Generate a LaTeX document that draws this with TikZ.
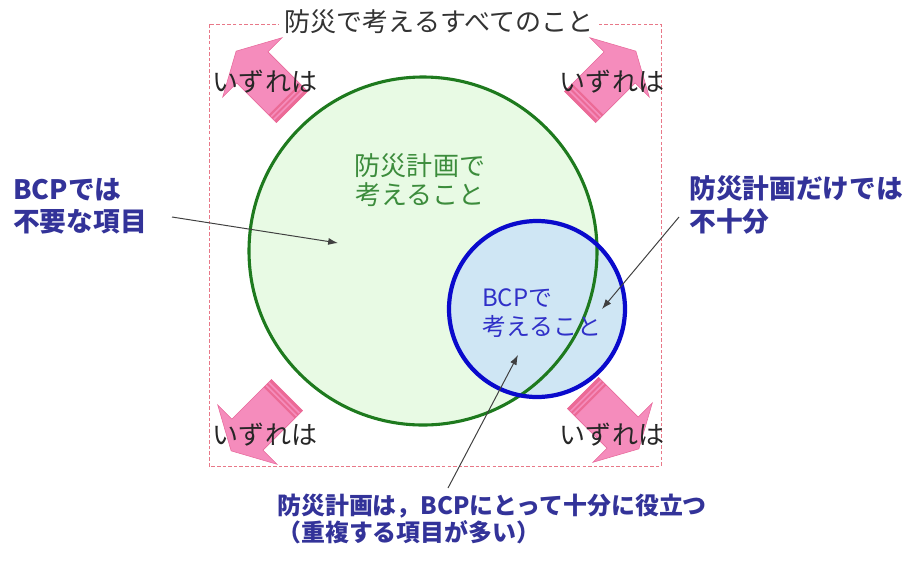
\documentclass[tikz,border=0pt]{standalone}
\usepackage{fontspec}
\setmainfont{Noto Sans CJK JP}
\usetikzlibrary{arrows.meta}
\definecolor{navy}{HTML}{333399}
\definecolor{gtext}{HTML}{3C8C3C}
\definecolor{btext}{HTML}{3030C8}
\definecolor{gline}{HTML}{1E7A1E}
\definecolor{bline}{HTML}{0A0ACC}
\definecolor{gfill}{HTML}{E8FAE4}
\definecolor{bfill}{HTML}{CFE6F4}
\definecolor{rline}{HTML}{E87888}
\definecolor{pfill}{HTML}{F58CBC}
\definecolor{pline}{HTML}{E86A9C}
\definecolor{pdark}{HTML}{EC6A96}
\tikzset{
  lbl/.style={font=\fontsize{18.5pt}{22pt}\selectfont, text=black!85, inner sep=1pt},
  navytxt/.style={font=\bfseries\fontsize{19pt}{23pt}\selectfont, text=navy, align=left, inner sep=0pt},
  conn/.style={draw=black!75, line width=0.7pt, -{Latex[length=7pt,width=5pt]}},
  pinkarr/.pic={
    \fill[pfill, draw=pline, line width=0.4pt] (0,-22) -- (56,-22) -- (56,-42) -- (79,0) -- (56,42) -- (56,22) -- (0,22) -- cycle;
    \fill[pdark] (0,-22) rectangle (3,22);
    \fill[pdark] (5,-22) rectangle (7,22);
    \fill[pdark] (9,-22) rectangle (11,22);
  }
}
\begin{document}
\begin{tikzpicture}[x=0.025cm,y=-0.025cm]
\useasboundingbox (0,0) rectangle (906,560);
% outer dashed frame
\draw[rline, line width=0.6pt, dash pattern=on 2.5pt off 1.5pt] (209,24) rectangle (661,466);
\node[fill=white, inner xsep=4pt, inner ysep=1pt, font=\fontsize{18.5pt}{22pt}\selectfont, text=black!80] (title) at (439,22) {防災で考えるすべてのこと};
% circles
\fill[gfill] (423,251) circle[radius=174];
\fill[bfill] (537,309) circle[radius=88];
\draw[gline, line width=2.2pt] (423,251) circle[radius=174];
\draw[bline, line width=3pt] (537,309) circle[radius=88];
% pink arrows
\pic[rotate=135] at (292,107) {pinkarr};
\pic[rotate=45] at (580,107) {pinkarr};
\pic[rotate=225] at (287,395) {pinkarr};
\pic[rotate=-45] at (583,393) {pinkarr};
% labels
\node[lbl] (tl) at (265,82) {いずれは};
\node[lbl] (tr) at (612,82) {いずれは};
\node[lbl] (bl) at (265,435) {いずれは};
\node[lbl] (br) at (612,435) {いずれは};
\node[font=\fontsize{18.5pt}{20.5pt}\selectfont, text=gtext, align=center] (plan) at (420,180) {防災計画で\\考えること};
\node[font=\fontsize{17pt}{21pt}\selectfont, text=btext, align=left, anchor=west, inner sep=0pt] (bcp) at (482,313) {BCPで\\考えること};
\node[navytxt, anchor=west] (unneeded) at (13,206) {BCPでは\\不要な項目};
\node[navytxt, anchor=west] (insuf) at (689,205) {防災計画だけでは\\不十分};
\node[font=\bfseries\fontsize{17pt}{19.5pt}\selectfont, text=navy, align=left, anchor=west, inner sep=0pt] (useful) at (277,519) {防災計画は，BCPにとって十分に役立つ\\（重複する項目が多い）};
% connectors
\coordinate (a1s) at (172,217);
\coordinate (a1e) at (338,243);
\coordinate (a2s) at (679,217);
\coordinate (a2e) at (602,309);
\coordinate (a3s) at (448,488);
\coordinate (a3e) at (518,355);
\draw[conn] (a1s) -- (a1e);
\draw[conn] (a2s) -- (a2e);
\draw[conn] (a3s) -- (a3e);
\end{tikzpicture}
\end{document}
